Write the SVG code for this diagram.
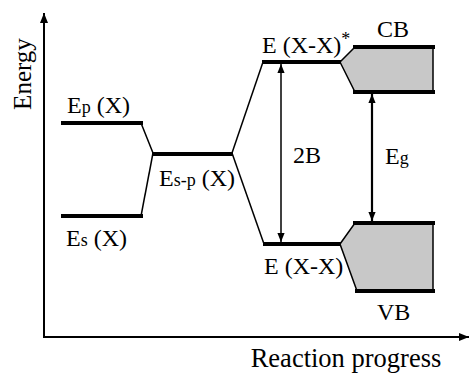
<svg xmlns="http://www.w3.org/2000/svg" width="470" height="373" viewBox="0 0 470 373">
<defs>
<marker id="ah" viewBox="0 0 10 10" refX="10" refY="5" markerWidth="10" markerHeight="10" markerUnits="userSpaceOnUse" orient="auto-start-reverse"><path d="M0,1 L10,5 L0,9 Z" fill="#000"/></marker>
<marker id="ah2" viewBox="0 0 10 10" refX="10" refY="5" markerWidth="9" markerHeight="9" markerUnits="userSpaceOnUse" orient="auto-start-reverse"><path d="M0,1 L10,5 L0,9 Z" fill="#000"/></marker>
<style>
text{fill:#000}
.lbl{font-size:24px}
.ax{font-size:25px}
.lvl{stroke:#000;stroke-width:4;fill:none;stroke-linecap:square}
.thin{stroke:#000;stroke-width:1.5;fill:none}
.band{fill:#c8c8c8;stroke:#000;stroke-width:1.5}
.sm{font-size:18px}
</style>
</defs>
<g font-family="'Liberation Serif', serif">
<g id="axes">
<line x1="44" y1="338" x2="44" y2="13" stroke="#000" stroke-width="2" marker-end="url(#ah)"/>
<line x1="43" y1="337" x2="469" y2="337" stroke="#000" stroke-width="2" marker-end="url(#ah)"/>
<text class="ax" transform="translate(31,74) rotate(-90)" text-anchor="middle">Energy</text>
<text class="ax" x="346" y="367" text-anchor="middle" style="font-size:26.5px">Reaction progress</text>
</g>
<g id="Ep">
<line class="lvl" x1="63" y1="123" x2="141" y2="123"/>
<text class="lbl" x="67" y="113">E<tspan class="sm">p</tspan> (X)</text>
</g>
<g id="Es">
<line class="lvl" x1="63" y1="216" x2="141" y2="216"/>
<text class="lbl" x="66" y="246">E<tspan class="sm">s</tspan> (X)</text>
</g>
<g id="Esp">
<line class="lvl" x1="154" y1="154" x2="231" y2="154"/>
<text class="lbl" x="159" y="186">E<tspan class="sm">s-p</tspan> (X)</text>
</g>
<g id="EXXstar">
<line class="lvl" x1="264" y1="62" x2="339" y2="62"/>
<text class="lbl" x="262" y="53">E (X-X)<tspan class="sm" dy="-8">*</tspan></text>
</g>
<g id="EXX">
<line class="lvl" x1="265" y1="244" x2="339" y2="244"/>
<text class="lbl" x="264" y="274">E (X-X)</text>
</g>
<g id="CB">
<polygon class="band" points="340,62 355,47 433,47 433,92 355,92"/>
<line class="lvl" x1="355" y1="47" x2="433" y2="47"/>
<line class="lvl" x1="355" y1="92" x2="433" y2="92"/>
<text class="lbl" x="377" y="37">CB</text>
</g>
<g id="VB">
<polygon class="band" points="340,244 355,223 433,223 433,291 357,291"/>
<line class="lvl" x1="355" y1="223" x2="433" y2="223"/>
<line class="lvl" x1="357" y1="291" x2="433" y2="291"/>
<text class="lbl" x="377" y="320">VB</text>
</g>
<g id="connectors">
<polyline class="thin" points="141,123 153,153"/>
<polyline class="thin" points="141,216 153,153"/>
<polyline class="thin" points="232,153 263,62"/>
<polyline class="thin" points="232,153 264,244"/>
<line x1="281" y1="64" x2="281" y2="242" stroke="#000" stroke-width="1.5" marker-start="url(#ah2)" marker-end="url(#ah2)"/>
<line x1="372" y1="94" x2="372" y2="221" stroke="#000" stroke-width="2.2" marker-start="url(#ah2)" marker-end="url(#ah2)"/>
<text class="lbl" x="293" y="163">2B</text>
<text class="lbl" x="385" y="164">E<tspan class="sm">g</tspan></text>
</g>
</g>
</svg>
